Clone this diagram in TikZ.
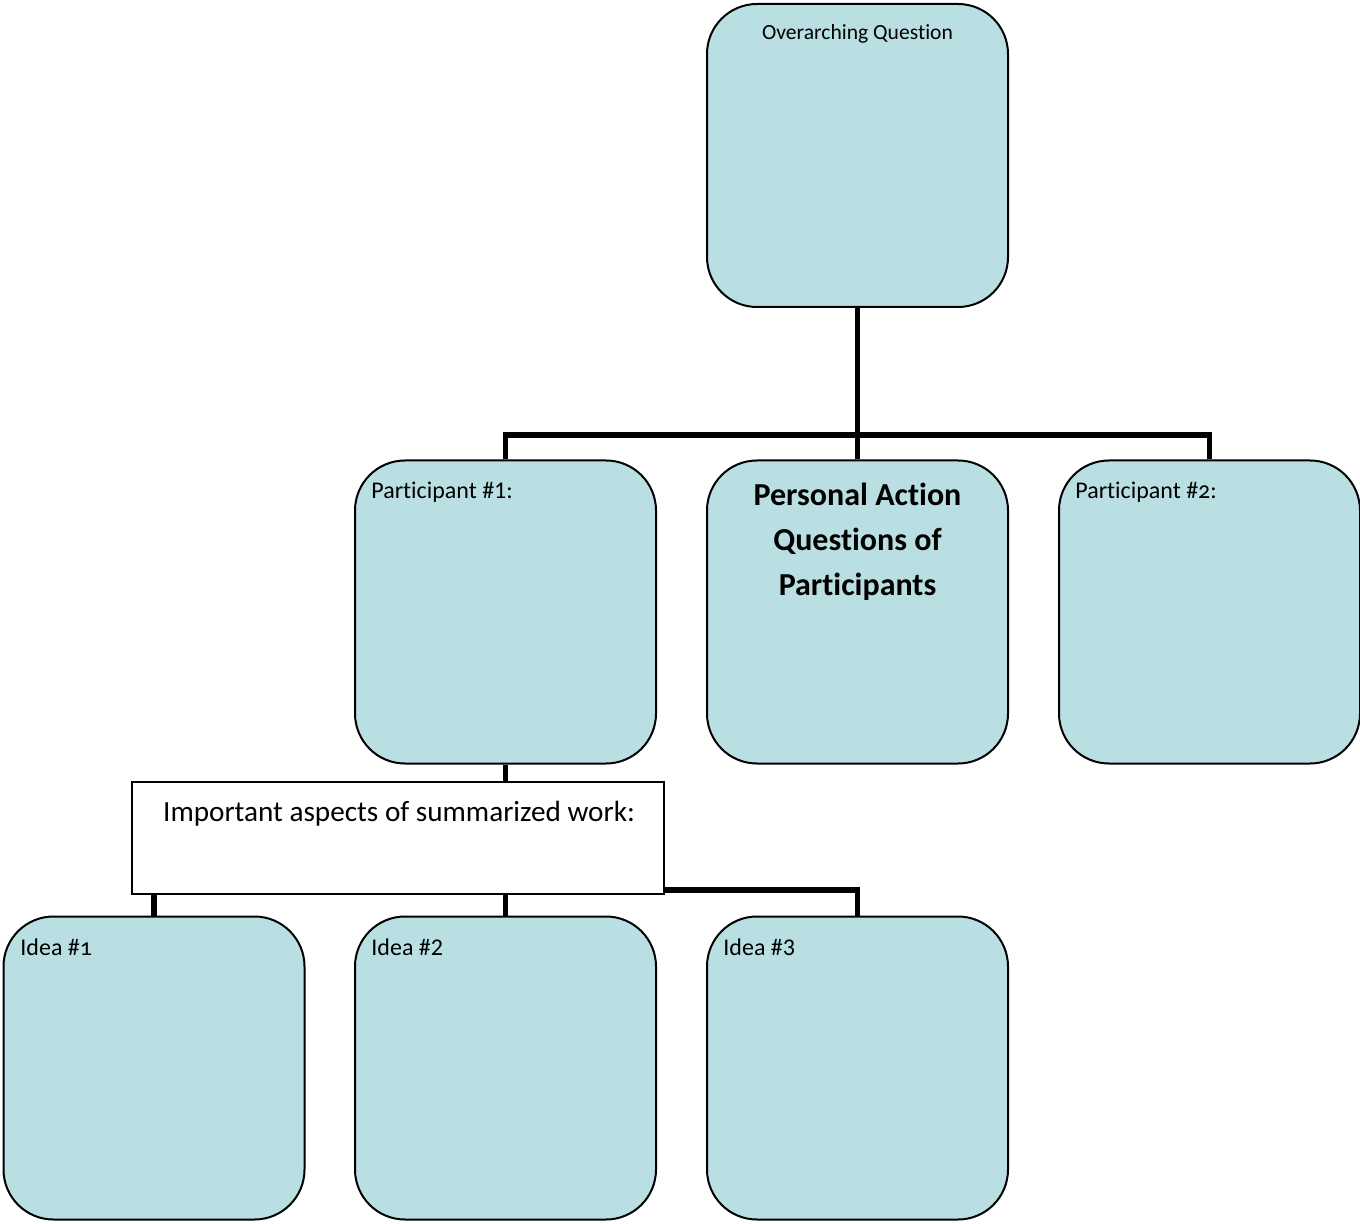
\documentclass[tikz,border=0pt]{standalone}
\usepackage{fontspec}
\setmainfont[Ligatures=NoCommon]{Carlito}
\usepackage{tikz}
\usetikzlibrary{positioning,backgrounds}
\definecolor{boxfill}{RGB}{185,223,227}
\tikzset{
  qbox/.style={draw, line width=1pt, fill=boxfill, rounded corners=25pt,
    minimum width=150.5pt, minimum height=151.5pt},
  abox/.style={draw, line width=0.8pt, fill=white,
    minimum width=266pt, minimum height=56pt},
  link/.style={line width=2.8pt},
  tag/.style={inner sep=0pt, font=\fontsize{12}{14}\selectfont},
}
\newcommand{\osf}[1]{{\addfontfeatures{Numbers=OldStyle}#1}}

\begin{document}
\begin{tikzpicture}[x=0.5pt, y=-0.5pt]
\useasboundingbox (0,0) rectangle (1360,1224);
%%%%% Boxes %%%%%
\node[qbox] (over) at (857.5,155.5) {};
\node[qbox] (part1) at (505.5,612) {};
\node[qbox] (action) at (857.5,612) {};
\node[qbox] (part2) at (1209.5,612) {};
\node[abox] (aspects) at (398,838) {};
\foreach \n/\x in {1/154,2/505.5,3/857.5}{
  \node[qbox] (idea\n) at (\x,1068) {};
}
%%%%% Texts %%%%%
\node[tag, anchor=base, font=\fontsize{10.8}{13}\selectfont] (overtxt) at (857.5,40) {Overarching Question};
\node[tag, anchor=base west] (part1txt) at (371,499) {Participant \#1:};
\node[tag, anchor=base west] (part2txt) at (1075,499) {Participant \#\osf{2}:};
\node[tag, anchor=base, align=center, font=\fontsize{16}{22.5}\selectfont\bfseries]
  (actiontxt) at (857.5,596) {Personal Action\\Questions of\\Participants};
\node[tag, anchor=base, font=\fontsize{14.6}{17}\selectfont] (aspectstxt) at (399,821) {Important aspects of summarized work:};
\node[tag, anchor=base west] (idea1txt) at (20,955) {Idea \#\osf{1}};
\node[tag, anchor=base west] (idea2txt) at (371,955) {Idea \#2};
\node[tag, anchor=base west] (idea3txt) at (723,955) {Idea \#3};
%%%%% Links %%%%%
\begin{scope}[on background layer]
\coordinate (hubtop) at (857.5,435);
\coordinate (hubidea) at (857.5,890);
\draw[link] (over.south) -- (action.north);
\draw[link] (part1.north) |- (hubtop) -| (part2.north);
\draw[link] (part1.south) -- (part1.south |- aspects.north);
\draw[link] (idea1.north) |- (hubidea) -- (idea3.north);
\draw[link] (idea2.north) -- (idea2.north |- hubidea);
\end{scope}
\end{tikzpicture}
\end{document}
